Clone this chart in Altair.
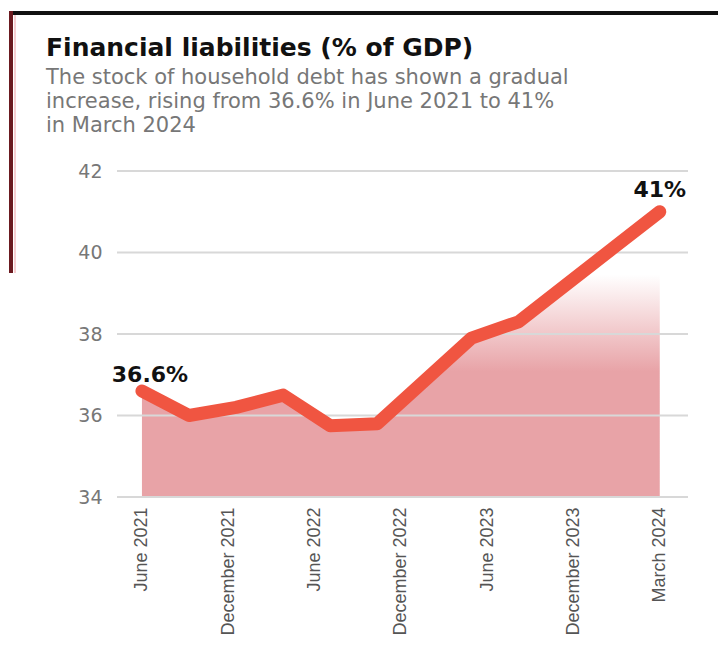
import altair as alt
import pandas as pd

# ---- data ----
quarters = ["June 2021", "September 2021", "December 2021", "March 2022",
            "June 2022", "September 2022", "December 2022", "March 2023",
            "June 2023", "September 2023", "December 2023", "March 2024"]
values = [36.6, 36.0, 36.2, 36.5, 35.75, 35.8, 36.85, 37.9, 38.3, 39.2, 40.1, 41.0]
tick_labels = ["June 2021", "December 2021", "June 2022", "December 2022",
               "June 2023", "December 2023", "March 2024"]
y_ticks = [34, 36, 38, 40, 42]
first_label = "36.6%"
last_label = "41%"

title_text = "Financial liabilities (% of GDP)"
subtitle_lines = ["The stock of household debt has shown a gradual",
                  "increase, rising from 36.6% in June 2021 to 41%",
                  "in March 2024"]

df = pd.DataFrame({"idx": list(range(len(quarters))), "quarter": quarters, "value": values})
n = len(quarters) - 1
tick_vals = [i * n / (len(tick_labels) - 1) for i in range(len(tick_labels))]
label_arr = "[" + ",".join("'" + t + "'" for t in tick_labels) + "]"
label_expr = f"{label_arr}[round(datum.value*{len(tick_labels)-1}/{n})]"

W, H = 571, 326
PL, PT = 117, 171
LINE = "#f05541"
AREA = "#e8a3a7"

x_scale = alt.Scale(domain=[-0.53, 11.6], nice=False, zero=False)
y_scale = alt.Scale(domain=[34, 42], nice=False, zero=False)

x_axis = alt.Axis(values=tick_vals, labelExpr=label_expr, labelAngle=-90,
                  labelAlign="right", labelBaseline="middle", labelPadding=10,
                  labelFont="'Liberation Sans Narrow', 'Liberation Sans', sans-serif",
                  labelFontSize=18,
                  labelColor="#555555", ticks=False, domain=False, grid=False,
                  title=None, labelOverlap=False, labelBound=False, labelFlush=False)
y_axis = alt.Axis(values=y_ticks, labelFont="DejaVu Sans", labelFontSize=19,
                  labelColor="#777777", labelPadding=15, ticks=False,
                  domain=False, grid=False, title=None)
x_enc = alt.X("idx:Q", scale=x_scale, axis=x_axis)
y_enc = alt.Y("value:Q", scale=y_scale, axis=y_axis)

area = alt.Chart(df).mark_area(
    color=alt.Gradient(gradient="linear", x1=0, y1=1, x2=0, y2=0,
                       stops=[alt.GradientStop(color=AREA, offset=0),
                              alt.GradientStop(color=AREA, offset=0.44),
                              alt.GradientStop(color="#ffffff", offset=0.78)])
).encode(x=x_enc, y=y_enc, y2=alt.datum(y_ticks[0]))

grid_df = pd.DataFrame({"value": y_ticks})
grid = alt.Chart(grid_df).mark_rule(color="#d8d8d8", strokeWidth=2).encode(
    y=y_enc, x=alt.value(0), x2=alt.value(W))

line = alt.Chart(df).mark_line(color=LINE, strokeWidth=13, strokeCap="round",
                               strokeJoin="round").encode(x=x_enc, y=y_enc)

first = alt.Chart(df.iloc[[0]].assign(lbl=first_label)).mark_text(
    font="DejaVu Sans", fontWeight="bold", fontSize=22, color="#111111",
    align="center", baseline="alphabetic", dx=8, dy=-9
).encode(x=x_enc, y=y_enc, text="lbl:N")
last = alt.Chart(df.iloc[[-1]].assign(lbl=last_label)).mark_text(
    font="DejaVu Sans", fontWeight="bold", fontSize=22, color="#111111",
    align="center", baseline="alphabetic", dx=0, dy=-15
).encode(x=x_enc, y=y_enc, text="lbl:N")

one = pd.DataFrame({"t": [title_text], "s": ["\n".join(subtitle_lines)]})
title = alt.Chart(one).mark_text(
    font="DejaVu Sans", fontWeight="bold", fontSize=25, color="#111111",
    align="left", baseline="alphabetic"
).encode(text="t:N", x=alt.value(46 - PL), y=alt.value(56 - PT))
subtitle = alt.Chart(one).mark_text(
    font="DejaVu Sans", fontSize=21, color="#777777", align="left",
    baseline="alphabetic", lineBreak="\n", lineHeight=24
).encode(text="s:N", x=alt.value(46 - PL), y=alt.value(84 - PT))

deco_top = alt.Chart(one).mark_rule(color="#111111", strokeWidth=4).encode(
    x=alt.value(9 - PL), x2=alt.value(718 - PL), y=alt.value(13 - PT))
deco_left = alt.Chart(one).mark_rule(color="#6b1a20", strokeWidth=4).encode(
    x=alt.value(11 - PL), y=alt.value(11 - PT), y2=alt.value(273 - PT))
deco_pink = alt.Chart(one).mark_rule(color="#f6cfd2", strokeWidth=2).encode(
    x=alt.value(15 - PL), y=alt.value(15 - PT), y2=alt.value(273 - PT))

chart = alt.layer(area, grid, line, first, last, title, subtitle,
                  deco_top, deco_left, deco_pink).properties(
    width=W, height=H,
    autosize=alt.AutoSizeParams(type="none"),
    padding={"left": PL, "top": PT, "right": 718 - PL - W, "bottom": 645 - PT - H},
    background="white",
).configure_view(stroke="transparent", strokeWidth=0)

chart.save("out.html", embed_options={"renderer": "svg", "actions": False})
